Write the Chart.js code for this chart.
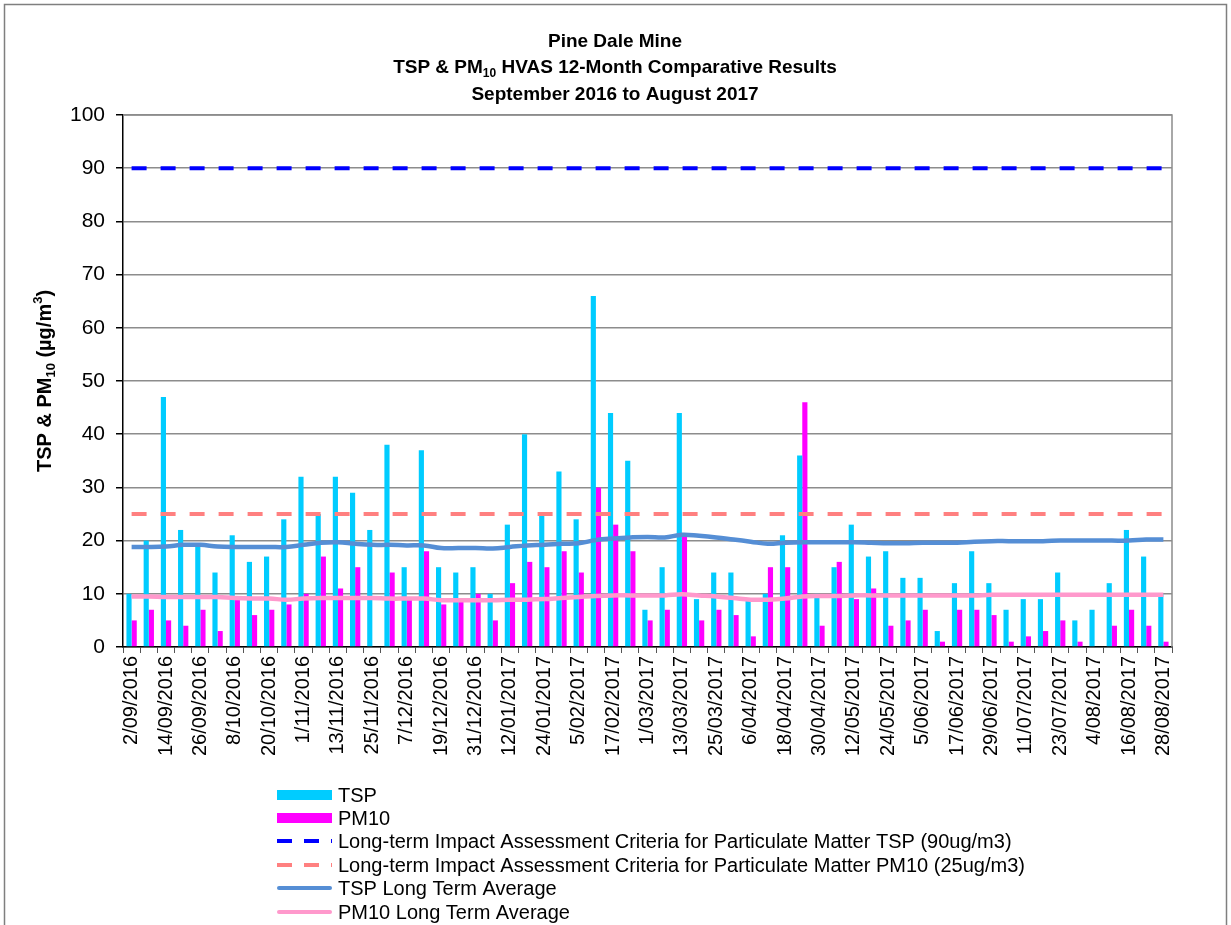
<!DOCTYPE html>
<html>
<head>
<meta charset="utf-8">
<script src="https://cdn.jsdelivr.net/npm/chart.js@4.4.0/dist/chart.umd.min.js"></script>
<style>
  html, body { margin: 0; padding: 0; background: #fff; }
</style>
</head>
<body>
<canvas id="myChart" width="1231" height="925"></canvas>
<script>
// sample dates (every 6 days), labels shown on every second one
var dates = ["2/09/2016", "8/09/2016", "14/09/2016", "20/09/2016", "26/09/2016", "2/10/2016", "8/10/2016", "14/10/2016",
    "20/10/2016", "26/10/2016", "1/11/2016", "7/11/2016", "13/11/2016", "19/11/2016", "25/11/2016", "1/12/2016",
    "7/12/2016", "13/12/2016", "19/12/2016", "25/12/2016", "31/12/2016", "6/01/2017", "12/01/2017", "18/01/2017",
    "24/01/2017", "30/01/2017", "5/02/2017", "11/02/2017", "17/02/2017", "23/02/2017", "1/03/2017", "7/03/2017",
    "13/03/2017", "19/03/2017", "25/03/2017", "31/03/2017", "6/04/2017", "12/04/2017", "18/04/2017", "24/04/2017",
    "30/04/2017", "6/05/2017", "12/05/2017", "18/05/2017", "24/05/2017", "30/05/2017", "5/06/2017", "11/06/2017",
    "17/06/2017", "23/06/2017", "29/06/2017", "5/07/2017", "11/07/2017", "17/07/2017", "23/07/2017", "29/07/2017",
    "4/08/2017", "10/08/2017", "16/08/2017", "22/08/2017", "28/08/2017"];

var tsp = [10, 20, 47, 22, 19, 14, 21, 16, 17, 24, 32, 25, 32, 29, 22, 38, 15, 37, 15, 14, 15, 10, 23, 40, 25, 33, 24, 66, 44, 35,
    7, 15, 44, 9, 14, 14, 9, 10, 21, 36, 10, 15, 23, 17, 18, 13, 13, 3, 12, 18, 12, 7, 9, 9, 14, 5, 7, 12, 22, 17, 10];

var pm10 = [5, 7, 5, 4, 7, 3, 9, 6, 7, 8, 10, 17, 11, 15, null, 14, 9, 18, 8, 9, 10, 5, 12, 16, 15, 18, 14, 30, 23, 18,
    5, 7, 21, 5, 7, 6, 2, 15, 15, 46, 4, 16, 9, 11, 4, 5, 7, 1, 7, 7, 6, 1, 2, 3, 5, 1, 0, 4, 7, 4, 1];

var tspAvg = [18.8, 18.8, 18.9, 19.2, 19.2, 18.9, 18.8, 18.8, 18.8, 18.8, 19.2, 19.6, 19.7, 19.4, 19.2,
    19.2, 19.1, 19.1, 18.6, 18.6, 18.6, 18.5, 18.8, 19.1, 19.2, 19.4, 19.5, 20.1, 20.4, 20.6,
    20.7, 20.6, 21.1, 20.9, 20.6, 20.2, 19.8, 19.4, 19.6, 19.7, 19.7, 19.7, 19.7, 19.6, 19.5,
    19.5, 19.6, 19.6, 19.6, 19.8, 19.9, 19.9, 19.9, 19.9, 20.0, 20.0, 20.0, 20.0, 20.0, 20.2, 20.2];

var pm10Avg = [9.5, 9.5, 9.4, 9.4, 9.4, 9.4, 9.2, 9.1, 9.1, 8.9, 9.1, 9.2, 9.2, 9.2, 9.2,
    9.1, 9.1, 9.1, 8.8, 8.8, 8.8, 8.8, 8.9, 8.9, 9.0, 9.2, 9.4, 9.6, 9.7, 9.7,
    9.7, 9.7, 9.9, 9.7, 9.5, 9.2, 8.9, 8.9, 9.1, 9.5, 9.6, 9.6, 9.7, 9.7, 9.7,
    9.7, 9.7, 9.7, 9.7, 9.7, 9.8, 9.8, 9.8, 9.8, 9.8, 9.8, 9.8, 9.8, 9.8, 9.8, 9.8];

var tspCriterion = 90;
var pm10Criterion = 25;

var yTicks = [0, 10, 20, 30, 40, 50, 60, 70, 80, 90, 100];

var legendLabels = ["TSP", "PM10",
    "Long-term Impact Assessment Criteria for Particulate Matter TSP (90ug/m3)",
    "Long-term Impact Assessment Criteria for Particulate Matter PM10 (25ug/m3)",
    "TSP Long Term Average", "PM10 Long Term Average"];

var FONT = '"Liberation Sans", Arial, sans-serif';
Chart.defaults.font.family = FONT;
Chart.defaults.color = '#000';

// draws text with sub/superscript pieces, centred on cx
function richText(c, parts, cx, cy, size) {
    var total = 0;
    parts.forEach(function(p) {
        c.font = 'bold ' + (p.s ? Math.round(size * 0.65) : size) + 'px ' + FONT;
        p.w = c.measureText(p.t).width;
        total += p.w;
    });
    var x = cx - total / 2;
    parts.forEach(function(p) {
        c.font = 'bold ' + (p.s ? Math.round(size * 0.65) : size) + 'px ' + FONT;
        var dy = p.s === 'sub' ? size * 0.3 : (p.s === 'sup' ? -size * 0.35 : 0);
        c.fillText(p.t, x, cy + dy);
        x += p.w;
    });
}

var decor = {
    id: 'decor',
    beforeDatasetsDraw: function(chart) {
        var c = chart.ctx, a = chart.chartArea;
        c.save();
        c.strokeStyle = '#8c8c8c';
        c.lineWidth = 1.5;
        c.beginPath();
        c.moveTo(a.left, a.top);
        c.lineTo(a.right, a.top);
        c.lineTo(a.right, a.bottom);
        c.stroke();
        c.restore();
    },
    afterDraw: function(chart) {
        var c = chart.ctx;
        c.save();
        // outer border
        c.strokeStyle = '#7f7f7f';
        c.lineWidth = 1.5;
        c.strokeRect(4.5, 4.5, 1222, 1000);

        // title
        c.fillStyle = '#000';
        c.textBaseline = 'middle';
        c.textAlign = 'left';
        richText(c, [{t: 'Pine Dale Mine'}], 615, 42, 19);
        richText(c, [{t: 'TSP & PM'}, {t: '10', s: 'sub'}, {t: ' HVAS 12-Month Comparative Results'}], 615, 68, 19);
        richText(c, [{t: 'September 2016 to August 2017'}], 615, 95, 19);

        // y axis title
        c.save();
        c.translate(45, 381);
        c.rotate(-Math.PI / 2);
        richText(c, [{t: 'TSP & PM'}, {t: '10', s: 'sub'}, {t: ' (µg/m'}, {t: '3', s: 'sup'}, {t: ')'}], 0, 0, 20);
        c.restore();

        // legend
        var x0 = 277, x1 = 332, tx = 338;
        var rows = [795, 818, 841, 865, 888, 912];
        var ds = chart.data.datasets;
        var order = [4, 5, 0, 1, 2, 3];
        c.font = '20px ' + FONT;
        c.textBaseline = 'middle';
        order.forEach(function(di, i) {
            var d = ds[di], y = rows[i];
            if (d.type === 'line') {
                c.strokeStyle = d.borderColor;
                c.lineWidth = 4;
                c.setLineDash(d.borderDash ? [15, 12] : []);
                c.lineCap = d.borderDash ? 'butt' : 'round';
                c.beginPath();
                c.moveTo(x0 + (d.borderDash ? 0 : 2), y);
                c.lineTo(x1 - (d.borderDash ? 0 : 2), y);
                c.stroke();
                c.setLineDash([]);
            } else {
                c.fillStyle = d.backgroundColor;
                c.fillRect(x0, y - 5, x1 - x0, 10);
            }
            c.fillStyle = '#000';
            c.fillText(legendLabels[i], tx, y + 1);
        });
        c.restore();
    }
};

var ctx = document.getElementById("myChart");
var myChart = new Chart(ctx, {
    type: 'bar',
    data: {
        labels: dates,
        datasets: [
            {
                type: 'line',
                label: legendLabels[2],
                data: dates.map(function() { return tspCriterion; }),
                borderColor: '#0000FF',
                borderWidth: 4,
                borderDash: [15, 14],
                pointRadius: 0,
                fill: false,
                order: 0
            },
            {
                type: 'line',
                label: legendLabels[3],
                data: dates.map(function() { return pm10Criterion; }),
                borderColor: '#FF8080',
                borderWidth: 4,
                borderDash: [15, 14],
                pointRadius: 0,
                fill: false,
                order: 0
            },
            {
                type: 'line',
                label: legendLabels[4],
                data: tspAvg,
                borderColor: '#558ED5',
                borderWidth: 4.5,
                pointRadius: 0,
                tension: 0.4,
                fill: false,
                order: 0
            },
            {
                type: 'line',
                label: legendLabels[5],
                data: pm10Avg,
                borderColor: '#FF99CC',
                borderWidth: 4.5,
                pointRadius: 0,
                tension: 0.4,
                fill: false,
                order: 0
            },
            {
                label: legendLabels[0],
                data: tsp,
                backgroundColor: '#00CCFF',
                barPercentage: 1,
                categoryPercentage: 0.6,
                order: 1
            },
            {
                label: legendLabels[1],
                data: pm10,
                backgroundColor: '#FF00FF',
                barPercentage: 1,
                categoryPercentage: 0.6,
                order: 1
            }
        ]
    },
    options: {
        responsive: false,
        animation: false,
        layout: { padding: { left: 0, top: 115, right: 59, bottom: 0 } },
        plugins: {
            legend: { display: false },
            title: { display: false },
            tooltip: { enabled: false }
        },
        scales: {
            x: {
                grid: { drawOnChartArea: false, drawTicks: true, tickLength: 6, color: '#555', offset: true },
                border: { color: '#000', width: 1.5 },
                ticks: {
                    autoSkip: false,
                    maxRotation: 90,
                    minRotation: 90,
                    padding: 3,
                    font: { size: 20 },
                    callback: function(v, i) { return i % 2 === 0 ? dates[i] : ''; }
                },
                afterFit: function(s) { s.height = 278; }
            },
            y: {
                min: yTicks[0],
                max: yTicks[yTicks.length - 1],
                afterBuildTicks: function(s) { s.ticks = yTicks.map(function(v) { return { value: v }; }); },
                ticks: { font: { size: 21 }, padding: 11 },
                grid: { color: '#8c8c8c', lineWidth: 1.5, tickColor: '#000', tickLength: 7 },
                border: { color: '#000', width: 1.5 },
                afterFit: function(s) { s.width = 123; }
            }
        }
    },
    plugins: [decor]
});
</script>
</body>
</html>
